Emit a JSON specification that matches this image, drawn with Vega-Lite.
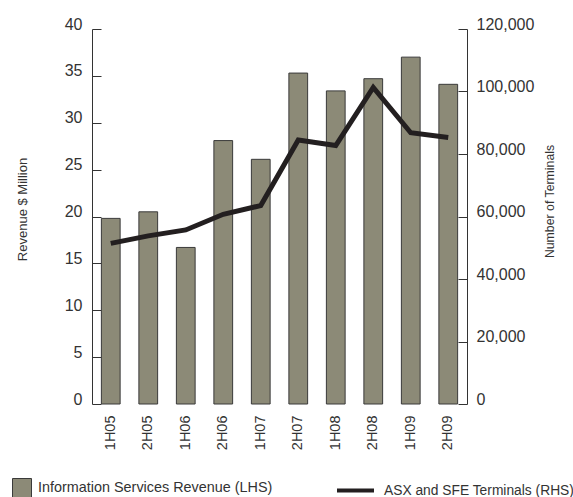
{
  "$schema": "https://vega.github.io/schema/vega-lite/v6.json",
  "width": 375,
  "height": 375,
  "autosize": {"type": "none"},
  "padding": {"left": 92, "top": 29, "right": 106, "bottom": 93},
  "background": "white",
  "config": {
    "font": "Liberation Sans",
    "view": {"stroke": null},
    "axis": {
      "grid": false,
      "domainColor": "#333333",
      "tickColor": "#333333",
      "labelColor": "#333333",
      "titleColor": "#333333",
      "titleFontWeight": "normal",
      "labelFont": "Liberation Sans",
      "titleFont": "Liberation Sans"
    },
    "legend": {
      "labelFont": "Liberation Sans",
      "labelColor": "#333333",
      "labelLimit": 400
    }
  },
  "data": {
    "values": [
      {"period": "1H05", "revenue": 19.8, "terminals": 51400},
      {"period": "2H05", "revenue": 20.5, "terminals": 53800},
      {"period": "1H06", "revenue": 16.7, "terminals": 55700},
      {"period": "2H06", "revenue": 28.1, "terminals": 60700},
      {"period": "1H07", "revenue": 26.1, "terminals": 63500},
      {"period": "2H07", "revenue": 35.3, "terminals": 84500},
      {"period": "1H08", "revenue": 33.4, "terminals": 82700},
      {"period": "2H08", "revenue": 34.7, "terminals": 101300},
      {"period": "1H09", "revenue": 37.0, "terminals": 86800},
      {"period": "2H09", "revenue": 34.1, "terminals": 85300}
    ]
  },
  "encoding": {
    "x": {
      "field": "period",
      "type": "nominal",
      "sort": null,
      "scale": {"paddingInner": 0.5, "paddingOuter": 0.25},
      "axis": {
        "title": null,
        "labelAngle": -90,
        "domain": false,
        "ticks": false,
        "labelPadding": 11,
        "labelFontSize": 14.5
      }
    }
  },
  "layer": [
    {
      "mark": {"type": "bar", "stroke": "#3a3a3a", "strokeWidth": 1},
      "encoding": {
        "y": {
          "field": "revenue",
          "type": "quantitative",
          "scale": {"domain": [0, 40]},
          "axis": {
            "title": "Revenue $ Million",
            "values": [0, 5, 10, 15, 20, 25, 30, 35, 40],
            "tickSize": -9,
            "labelPadding": 19,
            "labelBaseline": "alphabetic",
            "labelFontSize": 16,
            "titleFontSize": 13,
            "titleAngle": -90,
            "titleAlign": "center",
            "titleBaseline": "middle",
            "titleX": -70,
            "titleY": 180
          }
        },
        "fill": {
          "datum": "Information Services Revenue (LHS)",
          "type": "nominal",
          "scale": {"range": ["#8c8a77"]},
          "legend": {
            "title": null,
            "orient": "none",
            "legendX": -80,
            "legendY": 449,
            "padding": 0,
            "symbolType": "square",
            "symbolSize": 361,
            "symbolStrokeColor": "#3a3a3a",
            "symbolStrokeWidth": 1,
            "labelFontSize": 14.4,
            "labelOffset": 6
          }
        }
      }
    },
    {
      "mark": {"type": "line", "strokeWidth": 5},
      "encoding": {
        "y": {
          "field": "terminals",
          "type": "quantitative",
          "scale": {"domain": [0, 120000]},
          "axis": {
            "orient": "right",
            "title": "Number of Terminals",
            "values": [0, 20000, 40000, 60000, 80000, 100000, 120000],
            "format": ",.0f",
            "tickSize": -9,
            "labelPadding": 18,
            "labelBaseline": "alphabetic",
            "labelFontSize": 16,
            "titleFontSize": 12.3,
            "titleAngle": -90,
            "titleAlign": "center",
            "titleBaseline": "middle",
            "titleX": 82,
            "titleY": 172
          }
        },
        "stroke": {
          "datum": "ASX and SFE Terminals (RHS)",
          "type": "nominal",
          "scale": {"range": ["#231f20"]},
          "legend": {
            "title": null,
            "orient": "none",
            "legendX": 243,
            "legendY": 441,
            "padding": 0,
            "symbolType": "stroke",
            "symbolSize": 1369,
            "symbolStrokeWidth": 4,
            "labelFontSize": 13.8,
            "labelOffset": 8
          }
        }
      }
    }
  ],
  "resolve": {"scale": {"y": "independent"}}
}
